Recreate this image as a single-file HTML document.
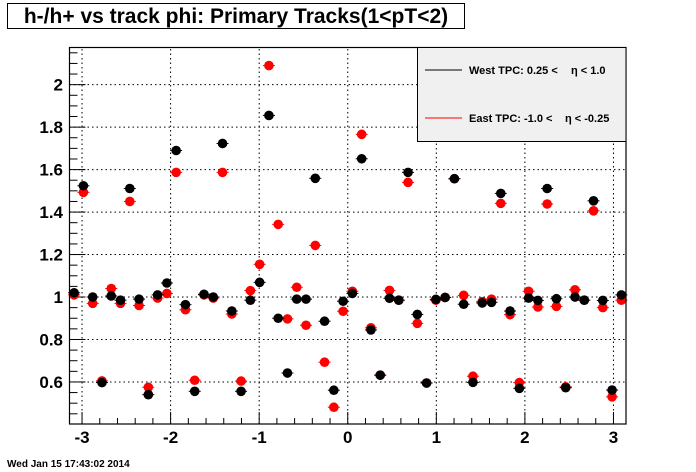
<!DOCTYPE html>
<html><head><meta charset="utf-8"><style>
body{margin:0;background:#fff;}
svg{display:block;font-family:"Liberation Sans",sans-serif;font-weight:bold;}
</style></head><body>
<svg id="c" width="696" height="472" viewBox="0 0 696 472">
<rect x="7.5" y="3.5" width="457" height="25" fill="#fff" stroke="#000"/>
<text x="236" y="23" font-size="21" text-anchor="middle">h-/h+ vs track phi: Primary Tracks(1&lt;pT&lt;2)</text>
<g id="grid"></g>
<g id="axes"></g>
<g id="marks"></g>
<rect x="69.5" y="47.5" width="556.5" height="376.5" fill="none" stroke="#000" stroke-width="1.2"/>
<g>
<rect x="417.5" y="47.5" width="208.5" height="94" fill="#f0f0f0" stroke="#000"/>
<line x1="425" y1="70" x2="462" y2="70" stroke="#000"/>
<text x="469" y="74" font-size="11">West TPC: 0.25 &lt;</text>
<text x="571" y="74" font-size="11">η &lt; 1.0</text>
<line x1="425" y1="118" x2="462" y2="118" stroke="#f00"/>
<text x="469" y="122" font-size="11">East TPC: -1.0 &lt;</text>
<text x="565" y="122" font-size="11">η &lt; -0.25</text>
</g>
<text x="7" y="467" font-size="10">Wed Jan 15 17:43:02 2014</text>
</svg>
<script>
const westValues=[1.02,1.524,1.0,0.597,1.005,0.985,1.511,0.99,0.54,1.01,1.066,1.69,0.964,0.556,1.013,1.0,1.723,0.934,0.556,0.985,1.069,1.855,0.90,0.642,0.99,0.99,1.559,0.886,0.561,0.98,1.017,1.651,0.845,0.632,0.994,0.985,1.587,0.918,0.595,0.989,0.998,1.557,0.966,0.598,0.972,0.975,1.488,0.934,0.57,0.995,0.984,1.511,0.992,0.573,1.0,0.985,1.453,0.984,0.562,1.01];
const eastValues=[1.01,1.493,0.97,0.605,1.04,0.97,1.45,0.96,0.575,0.995,1.017,1.587,0.94,0.608,1.01,0.995,1.587,0.92,0.604,1.03,1.154,2.09,1.342,0.897,1.046,0.867,1.243,0.693,0.481,0.933,1.027,1.766,0.855,0.632,1.031,0.985,1.54,0.876,0.595,0.985,0.998,1.557,1.008,0.627,0.978,0.99,1.441,0.917,0.597,1.027,0.953,1.438,0.956,0.577,1.034,0.985,1.406,0.95,0.53,0.985];
const xTickLabels=["-3","-2","-1","0","1","2","3"];
const yTickLabels=["0.6","0.8","1","1.2","1.4","1.6","1.8","2"];
const NS="http://www.w3.org/2000/svg";
const X0=69.5,X1=626,Y0=424,Y1=47.5,XMIN=-Math.PI,XMAX=Math.PI,YMIN=0.402,YMAX=2.175;
const sx=v=>X0+(v-XMIN)/(XMAX-XMIN)*(X1-X0);
const sy=v=>Y0-(v-YMIN)/(YMAX-YMIN)*(Y0-Y1);
function mk(tag,attrs,parent){const e=document.createElementNS(NS,tag);for(const k in attrs)e.setAttribute(k,attrs[k]);parent.appendChild(e);return e;}
const grid=document.getElementById('grid'),axes=document.getElementById('axes'),marks=document.getElementById('marks');
xTickLabels.forEach(t=>{const v=parseFloat(t),x=sx(v);
 const g=mk('line',{x1:x,y1:Y0,x2:x,y2:Y1,stroke:'#000','stroke-dasharray':'1.5,3'},grid);
 
 
 const tk=mk('line',{x1:x,y1:Y0,x2:x,y2:Y0-12,stroke:'#000'},axes);
 
 
 const tx=mk('text',{x:x,y:443,'font-size':17,'text-anchor':'middle'},axes);tx.textContent=t;
 
 
});
for(let v=-3.2;v<=3.2;v+=0.2){const r=Math.round(v*10)/10;if(r<XMIN||r>XMAX||Math.abs(r-Math.round(r))<1e-6)continue;const x=sx(r);
 const m=mk('line',{x1:x,y1:Y0,x2:x,y2:Y0-6,stroke:'#000'},axes);
 
 }
yTickLabels.forEach(t=>{const v=parseFloat(t),y=sy(v);
 const g=mk('line',{x1:X0,y1:y,x2:X1,y2:y,stroke:'#000','stroke-dasharray':'1.5,3'},grid);
 
 
 const tk=mk('line',{x1:X0,y1:y,x2:X0+16,y2:y,stroke:'#000'},axes);
 
 
 const tx=mk('text',{x:63,y:y+6,'font-size':17,'text-anchor':'end'},axes);tx.textContent=t;
 
 
});
for(let k=9;k<=43;k++){const v=k*0.05;if(v<YMIN||v>YMAX||k%4===0)continue;const y=sy(v);
 const m=mk('line',{x1:X0,y1:y,x2:X0+8,y2:y,stroke:'#000'},axes);
 
 }
const nb=westValues.length,bw=(XMAX-XMIN)/nb;
function series(vals,color,name){vals.forEach((v,i)=>{const x=sx(XMIN+(i+0.5)*bw),y=sy(v);
 const l=mk('line',{x1:x-6,y1:y,x2:x+6,y2:y,stroke:color,'stroke-width':1},marks);
 
 
 const c=mk('circle',{cx:x,cy:y,r:4.8,fill:color},marks);
 
 });}
series(eastValues,'#f00','east');
series(westValues,'#000','west');
</script>
</body></html>
